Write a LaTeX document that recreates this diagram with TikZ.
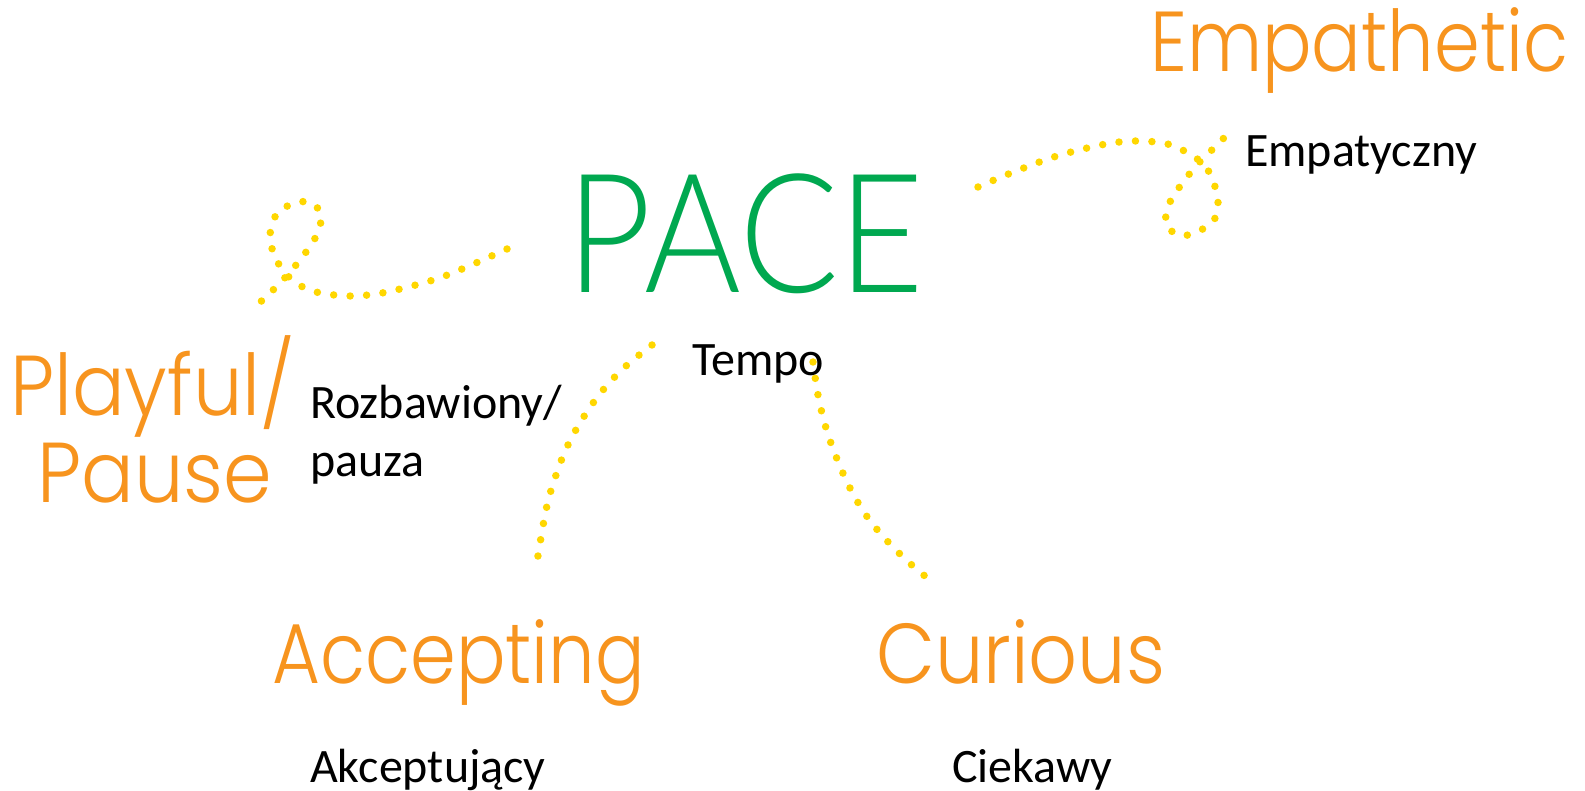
\documentclass[tikz,border=0pt]{standalone}
\usepackage{fontspec}
\setmainfont{Carlito}
\newfontfamily\orfontA[FakeStretch=0.865]{Poppins Light}
\newfontfamily\orfontB[FakeStretch=0.90]{Poppins Light}
\newfontfamily\orfontC[FakeStretch=0.92]{Poppins Light}
\newfontfamily\pacefont[FakeStretch=0.89]{Lato Light}
\definecolor{orangec}{RGB}{247,148,30}
\definecolor{pacegreen}{RGB}{0,168,80}
\definecolor{dotyellow}{RGB}{255,215,0}
\tikzset{
  en/.style={text=orangec, font=\orfontA\fontsize{85}{85}\selectfont, inner sep=0pt, anchor=base west},
  enb/.style={en, font=\orfontB\fontsize{85}{85}\selectfont},
  enc/.style={en, font=\orfontC\fontsize{85}{85}\selectfont},
  pl/.style={text=black, font=\fontsize{48}{48}\selectfont, inner sep=0pt, anchor=base west},
  pacestyle/.style={text=pacegreen, font=\pacefont\fontsize{166}{166}\selectfont, inner sep=0pt, anchor=base west},
  dots/.style={draw=dotyellow, line width=7.5pt, line cap=round, dash pattern=on 0pt off 16.5pt}
}
\begin{document}
\begin{tikzpicture}[x=1pt,y=-1pt]
\useasboundingbox (0,0) rectangle (1585,791);
% texts
\node[en] (empa) at (1150,72) {Empathetic};
\node[pl] (empapl) at (1245,167) {Empatyczny};
\node[pacestyle] (pace) at (566,293) {PACE};
\node[pl] (tempo) at (692,376) {Tempo};
\node[enc] (play) at (10,415) {Playful/};
\node[enc] (pause) at (37,502) {Pause};
\node[pl] (rozb) at (310,418) {Rozbawiony/};
\node[pl] (pauza) at (310,476) {pauza};
\node[en] (acc) at (272,683) {Accepting};
\node[pl] (akc) at (310,782) {Akceptujący};
\node[enb] (cur) at (876,683) {Curious};
\node[pl] (ciek) at (952,782) {Ciekawy};
% curve ends
\coordinate (c1s) at (507,249);
\coordinate (c1e) at (253,308);
\coordinate (c2s) at (978,187);
\coordinate (c2e) at (1234,127);
\coordinate (c3s) at (652,345);
\coordinate (c3e) at (537,562);
\coordinate (c4s) at (813,362);
\coordinate (c4e) at (930,580);
% dotted curves
\draw[dots] plot[smooth, tension=0.55] coordinates {(c1s) (462,269) (430,281) (382,293) (348,296) (316,292) (298,284) (281,268) (270,240) (276,215) (292,204) (309,202) (321,213) (319,229) (311,245) (291,271) (267,296) (c1e)};
\draw[dots] plot[smooth, tension=0.55] coordinates {(c2s) (1011,173) (1057,156) (1106,144) (1139,141) (1171,145) (1200,161) (1212,178) (1218,202) (1214,220) (1195,233) (1178,235) (1166,224) (1168,207) (1176,192) (1196,166) (1220,142) (c2e)};
\draw[dots] plot[smooth, tension=0.6] coordinates {(c3s) (626,366) (603,390) (583,418) (567,447) (555,478) (546,510) (c3e)};
\draw[dots] plot[smooth, tension=0.6] coordinates {(c4s) (818,395) (826,428) (837,459) (851,490) (868,518) (890,544) (914,567) (c4e)};
\end{tikzpicture}
\end{document}
